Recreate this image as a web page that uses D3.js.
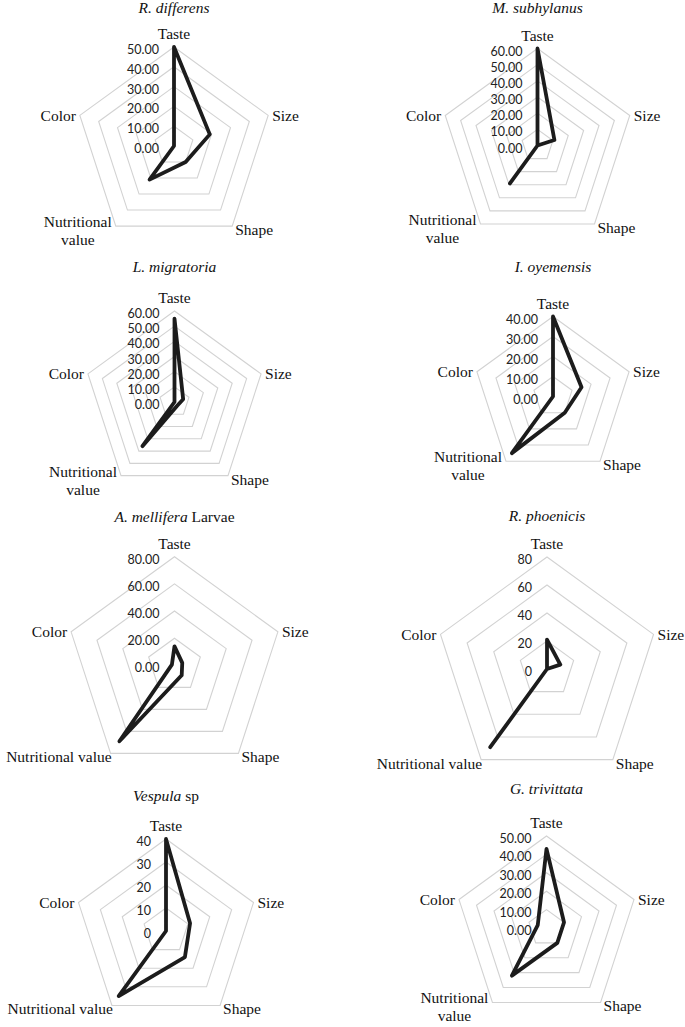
<!DOCTYPE html>
<html>
<head>
<meta charset="utf-8">
<script src="https://cdn.jsdelivr.net/npm/d3@7"></script>
<style>
  body { margin: 0; background: #fff; }
  .cat { font-family: "Liberation Serif", "Times New Roman", serif; font-size: 15.5px; fill: #111; }
  .title { font-family: "Liberation Serif", "Times New Roman", serif; font-size: 15.5px; fill: #111; }
  .tick { font-family: Lato, "Open Sans", sans-serif; font-size: 12.5px; fill: #222; }
  .ring { fill: none; stroke: #d2d2d2; stroke-width: 1.1; }
  .series { fill: none; stroke: #1c1c1c; stroke-width: 3.8; stroke-linejoin: round; }
</style>
</head>
<body>
<script>
  // axes of every radar, clockwise from the top
  let axes = ["Taste", "Size", "Shape", "Nutritional value", "Color"]

  // values
  let r_differens = [50, 19, 10, 21, 0]
  let m_subhylanus = [60, 11, 0, 29, 0]
  let l_migratoria = [55, 6, 3, 36, 0]
  let i_oyemensis = [40, 15, 10, 35, 0]
  let a_mellifera = [14, 6, 9, 69, 2]
  let r_phoenicis = [21, 10, 0, 69, 0]
  let vespula = [40, 11, 14, 35, 0]
  let g_trivittata = [43, 10, 10, 32, 5]

  // tick labels of each panel
  let ticks_50 = [0, 10, 20, 30, 40, 50]
  let ticks_60 = [0, 10, 20, 30, 40, 50, 60]
  let ticks_40 = [0, 10, 20, 30, 40]
  let ticks_80 = [0, 20, 40, 60, 80]

  // titles: [italic part, plain part]
  let titles = [
    ["R. differens", ""], ["M. subhylanus", ""],
    ["L. migratoria", ""], ["I. oyemensis", ""],
    ["A. mellifera", " Larvae"], ["R. phoenicis", ""],
    ["Vespula", " sp"], ["G. trivittata", ""]
  ]

  let panels = [
    {values: r_differens, ticks: ticks_50, fmt: ".2f", wrap: true},
    {values: m_subhylanus, ticks: ticks_60, fmt: ".2f", wrap: true},
    {values: l_migratoria, ticks: ticks_60, fmt: ".2f", wrap: true},
    {values: i_oyemensis, ticks: ticks_40, fmt: ".2f", wrap: true},
    {values: a_mellifera, ticks: ticks_80, fmt: ".2f", wrap: false},
    {values: r_phoenicis, ticks: ticks_80, fmt: "d", wrap: false},
    {values: vespula, ticks: ticks_40, fmt: "d", wrap: false},
    {values: g_trivittata, ticks: ticks_50, fmt: ".2f", wrap: true}
  ]

  // where each small radar sits on the page
  let layout = [
    {cx: 174, cy: 146, r: 99, ty: 13},
    {cx: 537.5, cy: 145.5, r: 97, ty: 13},
    {cx: 174.5, cy: 402, r: 91, ty: 272},
    {cx: 553, cy: 396.5, r: 80, ty: 272},
    {cx: 174.5, cy: 665.4, r: 108.7, ty: 521.5},
    {cx: 547, cy: 669, r: 112, ty: 521},
    {cx: 166, cy: 931, r: 92, ty: 800.5},
    {cx: 546.5, cy: 928, r: 92, ty: 794}
  ]

  let svg = d3.select("body").append("svg")
    .attr("width", 685)
    .attr("height", 1027)

  let angle = d3.scalePoint()
    .domain(d3.range(axes.length + 1))
    .range([0, 2 * Math.PI])

  function draw_panel(panel, title, pos) {
    let g = svg.append("g")
      .attr("transform", `translate(${pos.cx}, ${pos.cy})`)

    let max = d3.max(panel.ticks)
    let r = d3.scaleLinear().domain([0, max]).range([0, pos.r])

    let ring = d3.lineRadial()
      .angle((d, i) => angle(i))
      .radius(d => r(d))
      .curve(d3.curveLinearClosed)

    g.selectAll("path.ring")
      .data(panel.ticks.filter(t => t > 0)).enter()
      .append("path")
      .attr("class", "ring")
      .attr("d", t => ring(axes.map(() => t)))

    g.append("path")
      .datum(panel.values)
      .attr("class", "series")
      .attr("d", ring)

    let fmt = d3.format(panel.fmt)
    g.selectAll("text.tick")
      .data(panel.ticks).enter()
      .append("text")
      .attr("class", "tick")
      .attr("text-anchor", "end")
      .attr("x", -15)
      .attr("y", t => -r(t) + 2.5)
      .attr("dominant-baseline", "central")
      .text(fmt)

    // category labels at the outer vertices
    let vx = i => r(max) * Math.sin(angle(i))
    let vy = i => -r(max) * Math.cos(angle(i))

    g.append("text").attr("class", "cat")
      .attr("text-anchor", "middle")
      .attr("x", 0).attr("y", vy(0) - 8)
      .text(axes[0])

    g.append("text").attr("class", "cat")
      .attr("x", vx(1) + 4).attr("y", vy(1))
      .attr("dominant-baseline", "central")
      .text(axes[1])

    g.append("text").attr("class", "cat")
      .attr("x", vx(2) + 3).attr("y", vy(2) + 9)
      .text(axes[2])

    if (panel.wrap) {
      let t = g.append("text").attr("class", "cat")
        .attr("text-anchor", "middle")
      let first = t.append("tspan").text("Nutritional")
      let w = first.node().getComputedTextLength()
      let mid = vx(3) - 4 - w / 2
      first.attr("x", mid).attr("y", vy(3) + 1)
      t.append("tspan").attr("x", mid).attr("y", vy(3) + 19).text("value")
    } else {
      g.append("text").attr("class", "cat")
        .attr("text-anchor", "end")
        .attr("x", vx(3) + 1).attr("y", vy(3) + 9)
        .text(axes[3])
    }

    g.append("text").attr("class", "cat")
      .attr("text-anchor", "end")
      .attr("x", vx(4) - 4).attr("y", vy(4))
      .attr("dominant-baseline", "central")
      .text(axes[4])

    let tt = svg.append("text").attr("class", "title")
      .attr("text-anchor", "middle")
      .attr("x", pos.cx).attr("y", pos.ty)
    tt.append("tspan").style("font-style", "italic").text(title[0])
    if (title[1]) tt.append("tspan").text(title[1])
  }

  panels.forEach((p, i) => draw_panel(p, titles[i], layout[i]))
</script>
</body>
</html>
